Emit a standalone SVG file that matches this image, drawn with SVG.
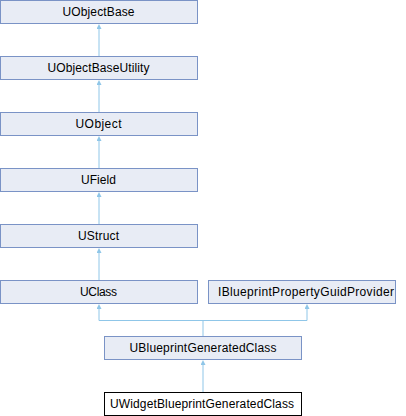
<svg xmlns="http://www.w3.org/2000/svg" width="406" height="416" viewBox="0 0 406 416">
<defs>
<style>
.n rect{fill:#e8ecf5;stroke:#7a93c6;stroke-width:1}
.n.w rect{fill:#ffffff;stroke:#000000}
.n text{font-family:"Liberation Sans",Arial,sans-serif;font-size:12px;fill:#000;text-anchor:middle}
.e path{fill:none;stroke:#8fc6e8;stroke-width:1}
</style>
<marker id="a" viewBox="0 0 10 10" refX="0" refY="5" markerWidth="5" markerHeight="5" orient="auto" markerUnits="userSpaceOnUse">
<path d="M0,0 L10,5 L0,10 Z" fill="#8fc6e8"/>
</marker>
</defs>
<rect width="406" height="416" fill="#ffffff"/>
<g class="e">
<path d="M99,56 V29" marker-end="url(#a)"/>
<path d="M99,112 V85" marker-end="url(#a)"/>
<path d="M99,168 V141" marker-end="url(#a)"/>
<path d="M99,224 V197" marker-end="url(#a)"/>
<path d="M99,280 V253" marker-end="url(#a)"/>
<path d="M203,336 V320.5 H99 V309" marker-end="url(#a)"/>
<path d="M203,320.5 H307 V309" marker-end="url(#a)"/>
<path d="M203,392 V365" marker-end="url(#a)"/>
</g>
<g id="UObjectBase" class="n"><rect x="0.5" y="0.5" width="197" height="23"/><text x="98.5" y="16" textLength="72" lengthAdjust="spacing">UObjectBase</text></g>
<g id="UObjectBaseUtility" class="n"><rect x="0.5" y="56.5" width="197" height="23"/><text x="98.5" y="72" textLength="102" lengthAdjust="spacing">UObjectBaseUtility</text></g>
<g id="UObject" class="n"><rect x="0.5" y="112.5" width="197" height="23"/><text x="98.5" y="128" textLength="46" lengthAdjust="spacing">UObject</text></g>
<g id="UField" class="n"><rect x="0.5" y="168.5" width="197" height="23"/><text x="98.5" y="184" textLength="35" lengthAdjust="spacing">UField</text></g>
<g id="UStruct" class="n"><rect x="0.5" y="224.5" width="197" height="23"/><text x="98.5" y="240" textLength="41" lengthAdjust="spacing">UStruct</text></g>
<g id="UClass" class="n"><rect x="0.5" y="280.5" width="197" height="23"/><text x="98.5" y="296" textLength="37" lengthAdjust="spacing">UClass</text></g>
<g id="IBlueprintPropertyGuidProvider" class="n"><rect x="208.5" y="280.5" width="187" height="23"/><text x="306" y="296" textLength="176" lengthAdjust="spacing">IBlueprintPropertyGuidProvider</text></g>
<g id="UBlueprintGeneratedClass" class="n"><rect x="104.5" y="336.5" width="197" height="23"/><text x="203" y="352" textLength="147" lengthAdjust="spacing">UBlueprintGeneratedClass</text></g>
<g id="UWidgetBlueprintGeneratedClass" class="n w"><rect x="104.5" y="392.5" width="197" height="23"/><text x="202" y="408" textLength="184" lengthAdjust="spacing">UWidgetBlueprintGeneratedClass</text></g>
</svg>
